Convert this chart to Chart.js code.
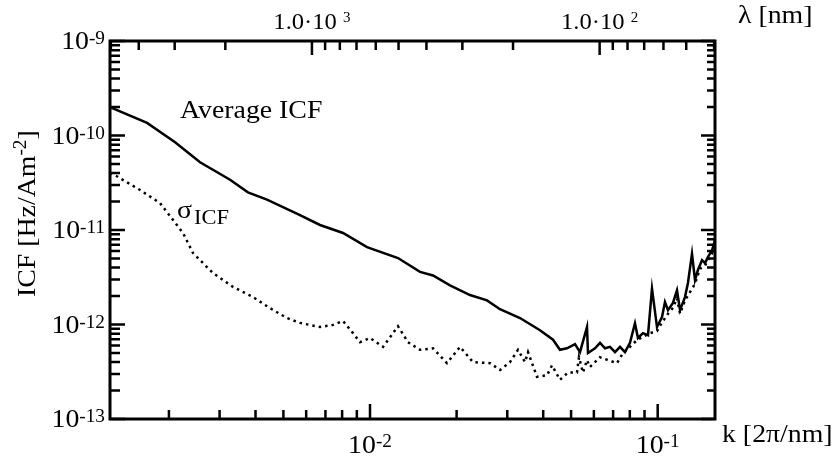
<!DOCTYPE html>
<html>
<head>
<meta charset="utf-8">
<script src="https://cdn.jsdelivr.net/npm/chart.js@4.4.0/dist/chart.umd.min.js"></script>
<style>
  html, body { margin: 0; padding: 0; background: #fff; }
  canvas { display: block; }
</style>
</head>
<body>
<canvas id="chart" width="834" height="459"></canvas>
<script>
// --- DATA ---
const kAvg = [0.001248, 0.001679, 0.002101, 0.002566, 0.003262, 0.003765, 0.004385, 0.005710, 0.006702, 0.008057,
    0.009763, 0.01251, 0.01492, 0.01656, 0.01897, 0.02226, 0.02551, 0.02830, 0.03322, 0.03898,
    0.04326, 0.04574, 0.04837, 0.05160, 0.05369, 0.05679, 0.05724, 0.06055, 0.06302, 0.06561,
    0.06829, 0.07106, 0.07396, 0.07696, 0.08011, 0.08337, 0.08539, 0.08888, 0.09253, 0.09554,
    0.09945, 0.1035, 0.1060, 0.1086, 0.1130, 0.1167, 0.1196, 0.1244, 0.1274, 0.1316,
    0.1348, 0.1380, 0.1426, 0.1461, 0.1496, 0.1545, 0.1582];
const icfAvg = [2.0e-10, 1.36e-10, 8.5e-11, 5.2e-11, 3.4e-11, 2.5e-11, 2.1e-11, 1.44e-11, 1.13e-11, 9.3e-12,
    6.6e-12, 5.05e-12, 3.6e-12, 3.3e-12, 2.6e-12, 2.05e-12, 1.8e-12, 1.45e-12, 1.17e-12, 8.7e-13,
    6.9e-13, 5.4e-13, 5.6e-13, 6.2e-13, 5.1e-13, 9.4e-13, 5.0e-13, 5.6e-13, 6.4e-13, 5.6e-13,
    5.8e-13, 5.1e-13, 5.8e-13, 5.1e-13, 6.4e-13, 1.03e-12, 7.2e-13, 8.1e-13, 7.7e-13, 2.4e-12,
    9.4e-13, 1.2e-12, 1.73e-12, 1.42e-12, 1.69e-12, 2.3e-12, 1.42e-12, 1.95e-12, 2.75e-12, 5.6e-12,
    2.96e-12, 3.77e-12, 4.8e-12, 4.47e-12, 5.2e-12, 6.1e-12, 7.8e-12];

const kSigma = [0.001248, 0.001299, 0.001587, 0.001862, 0.002066, 0.002239, 0.002425, 0.002846, 0.003341, 0.003922,
    0.004491, 0.005147, 0.005710, 0.006702, 0.007436, 0.008057, 0.008728, 0.009232, 0.01, 0.01110,
    0.01251, 0.01355, 0.01492, 0.01656, 0.01852, 0.02055, 0.02280, 0.02614, 0.02830, 0.03066,
    0.03268, 0.03458, 0.03542, 0.03806, 0.04123, 0.04292, 0.04574, 0.04877, 0.05241, 0.05326,
    0.05499, 0.05679, 0.05817, 0.06302, 0.06717, 0.07221, 0.07576, 0.08011, 0.08474, 0.09401,
    0.09945, 0.1035, 0.1086, 0.1130, 0.1167, 0.1196, 0.1244, 0.1295, 0.1348, 0.1403,
    0.1461, 0.1496, 0.1545, 0.1582];
const icfSigma = [4.0e-11, 3.8e-11, 2.65e-11, 1.93e-11, 1.28e-11, 9.3e-12, 5.7e-12, 3.5e-12, 2.5e-12, 1.95e-12,
    1.49e-12, 1.17e-12, 1.04e-12, 9.4e-13, 9.9e-13, 1.09e-12, 8.1e-13, 6.5e-13, 7.2e-13, 5.8e-13,
    9.6e-13, 6.5e-13, 5.4e-13, 5.6e-13, 3.9e-13, 5.8e-13, 4.0e-13, 3.9e-13, 3.3e-13, 4.0e-13,
    5.4e-13, 4.0e-13, 5.1e-13, 2.8e-13, 2.9e-13, 3.7e-13, 2.6e-13, 3.1e-13, 3.1e-13, 4.5e-13,
    3.1e-13, 4.2e-13, 3.55e-13, 4.5e-13, 4.2e-13, 3.9e-13, 5.0e-13, 5.8e-13, 6.85e-13, 8.1e-13,
    8.5e-13, 1.05e-12, 1.3e-12, 1.5e-12, 1.9e-12, 1.3e-12, 1.8e-12, 2.2e-12, 2.7e-12, 3.9e-12,
    4.2e-12, 4.8e-12, 5.6e-12, 7.2e-12];

const kRange = [0.001248, 0.1582];
const icfRange = [1e-13, 1e-9];
const bottomLabels = [[0.01, '-2'], [0.1, '-1']];
const topLabels = [[1000, '3'], [100, '2']];
const leftLabels = [[1e-9, '-9'], [1e-10, '-10'], [1e-11, '-11'], [1e-12, '-12'], [1e-13, '-13']];

const SERIF = '"Liberation Serif", "Times New Roman", serif';
const STRETCH = 1.07; // text in the figure is a bit wider than plain Times

function logTicks(min, max) {
    const out = [];
    const lo = Math.floor(Math.log10(Math.min(min, max)));
    const hi = Math.ceil(Math.log10(Math.max(min, max)));
    for (let e = lo; e <= hi; e++) {
        for (let m = 1; m <= 9; m++) {
            const v = m * Math.pow(10, e);
            if (v >= Math.min(min, max) * 0.999 && v <= Math.max(min, max) * 1.001) out.push({ v, major: m === 1 });
        }
    }
    return out;
}

// draws base + superscript (+ optional tail) as real text, stretched horizontally
function supText(ctx, base, sup, x, y, align, baseSize, supSize, rise, tail) {
    ctx.font = baseSize + 'px ' + SERIF;
    const wb = ctx.measureText(base).width;
    const wt = tail ? ctx.measureText(tail).width : 0;
    ctx.font = supSize + 'px ' + SERIF;
    const ws = sup ? ctx.measureText(sup).width : 0;
    const w = (wb + ws + wt) * STRETCH;
    let x0 = x;
    if (align === 'center') x0 = x - w / 2;
    if (align === 'right') x0 = x - w;
    ctx.save();
    ctx.translate(x0, y);
    ctx.scale(STRETCH, 1);
    ctx.textAlign = 'left';
    ctx.textBaseline = 'alphabetic';
    ctx.font = baseSize + 'px ' + SERIF;
    ctx.fillText(base, 0, 0);
    if (sup) {
        ctx.font = supSize + 'px ' + SERIF;
        ctx.fillText(sup, wb, -rise);
    }
    if (tail) {
        ctx.font = baseSize + 'px ' + SERIF;
        ctx.fillText(tail, wb + ws, 0);
    }
    ctx.restore();
}

const framePlugin = {
    id: 'frame',
    afterDraw(chart) {
        const ctx = chart.ctx;
        const a = chart.chartArea;
        const xs = chart.scales.x, ys = chart.scales.y, ls = chart.scales.lambda;
        ctx.save();
        ctx.strokeStyle = '#000';
        ctx.fillStyle = '#000';

        // ticks (inward)
        ctx.lineWidth = 2.5;
        ctx.beginPath();
        logTicks(kRange[0], kRange[1]).forEach(t => {
            const px = xs.getPixelForValue(t.v);
            ctx.moveTo(px, a.bottom);
            ctx.lineTo(px, a.bottom - (t.major ? 15 : 9));
        });
        logTicks(ls.min, ls.max).forEach(t => {
            const px = ls.getPixelForValue(t.v);
            ctx.moveTo(px, a.top);
            ctx.lineTo(px, a.top + (t.major ? 14 : 9));
        });
        logTicks(icfRange[0], icfRange[1]).forEach(t => {
            const py = ys.getPixelForValue(t.v);
            ctx.moveTo(a.left, py);
            ctx.lineTo(a.left + (t.major ? 15 : 10), py);
            ctx.moveTo(a.right, py);
            ctx.lineTo(a.right - (t.major ? 14 : 8), py);
        });
        ctx.stroke();

        // frame
        ctx.lineWidth = 3;
        ctx.strokeRect(a.left, a.top, a.right - a.left, a.bottom - a.top);

        // tick labels
        bottomLabels.forEach(([v, s]) => supText(ctx, '10', s, xs.getPixelForValue(v), 453, 'center', 26, 18, 6));
        topLabels.forEach(([v, s]) => supText(ctx, '1.0\u00b710 ', s, ls.getPixelForValue(v), 29, 'center', 23, 14, 7));
        leftLabels.forEach(([v, s]) => supText(ctx, '10', s, 105, ys.getPixelForValue(v) + 8, 'right', 26, 18, 5));

        // axis titles
        supText(ctx, 'k [2\u03c0/nm]', '', 722, 442, 'left', 26, 18, 0);
        supText(ctx, '\u03bb [nm]', '', 738, 23, 'left', 26, 18, 0);

        ctx.save();
        ctx.translate(35, 297);
        ctx.rotate(-Math.PI / 2);
        supText(ctx, 'ICF [Hz/Am', '-2', 0, 0, 'left', 26, 18, 9, ']');
        ctx.restore();

        // series labels
        supText(ctx, 'Average ICF', '', 180, 118, 'left', 26, 18, 0);
        supText(ctx, '\u03c3', '', 177, 218, 'left', 26, 18, 0);
        supText(ctx, 'ICF', '', 194, 224, 'left', 21, 18, 0);
        ctx.restore();
    }
};

new Chart(document.getElementById('chart').getContext('2d'), {
    type: 'line',
    data: {
        datasets: [{
            label: 'Average ICF',
            data: kAvg.map((k, i) => ({ x: k, y: icfAvg[i] })),
            borderColor: '#000',
            borderWidth: 2.5,
            pointRadius: 0,
            tension: 0
        }, {
            label: 'sigma ICF',
            data: kSigma.map((k, i) => ({ x: k, y: icfSigma[i] })),
            borderColor: '#000',
            borderWidth: 2.5,
            borderDash: [2.5, 4],
            pointRadius: 0,
            tension: 0
        }]
    },
    options: {
        responsive: false,
        animation: false,
        devicePixelRatio: 1,
        layout: { padding: { left: 110, right: 119, top: 41, bottom: 40 } },
        plugins: { legend: { display: false }, tooltip: { enabled: false } },
        scales: {
            x: { type: 'logarithmic', min: kRange[0], max: kRange[1], display: false },
            lambda: {
                type: 'logarithmic', position: 'top', reverse: true,
                min: 2 * Math.PI / kRange[1], max: 2 * Math.PI / kRange[0], display: false
            },
            y: { type: 'logarithmic', min: icfRange[0], max: icfRange[1], display: false }
        }
    },
    plugins: [framePlugin]
});
</script>
</body>
</html>
